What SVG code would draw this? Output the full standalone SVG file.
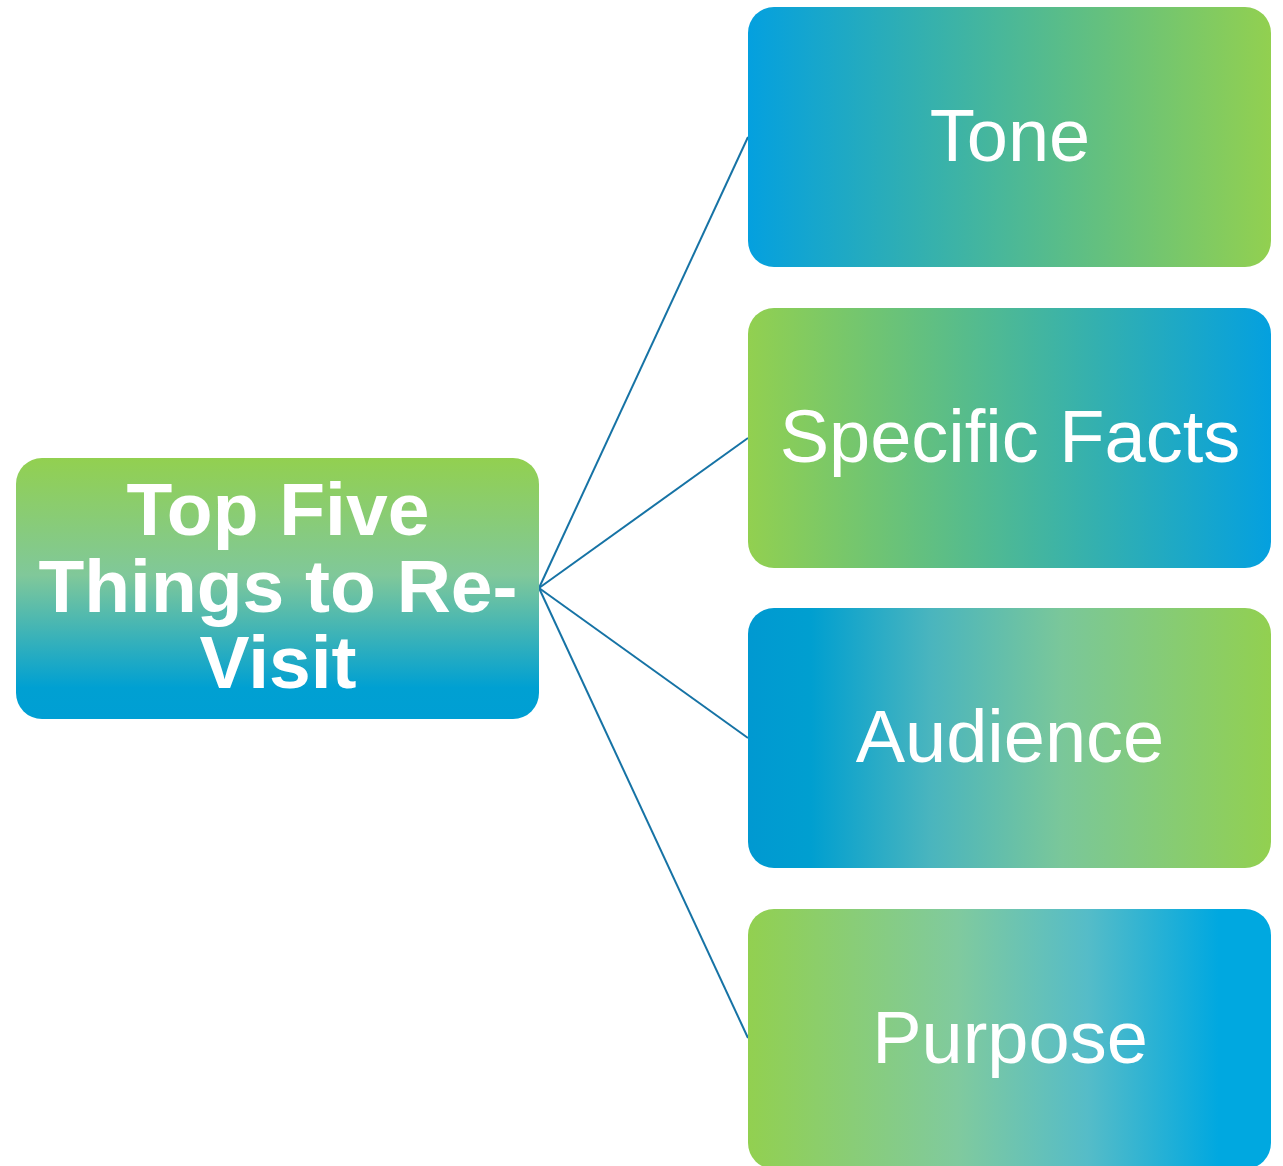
<svg xmlns="http://www.w3.org/2000/svg" width="1283" height="1166" viewBox="0 0 1283 1166">
<style>
.lbl{font-family:"Liberation Sans",Arial,sans-serif;fill:#ffffff;text-anchor:middle}
.child{font-size:74px}
.root{font-size:75px;font-weight:bold}
.conn{stroke:#1673A5;stroke-width:2;fill:none}
</style>
<defs>
<linearGradient id="gRoot" x1="0" y1="0" x2="0" y2="1">
<stop offset="0" stop-color="#92D050"/>
<stop offset="0.45" stop-color="#80C89A"/>
<stop offset="0.88" stop-color="#00A0D2"/>
<stop offset="1" stop-color="#009FD4"/>
</linearGradient>
<linearGradient id="gBG" x1="0" y1="0" x2="1" y2="0">
<stop offset="0" stop-color="#04A0DF"/>
<stop offset="1" stop-color="#92D050"/>
</linearGradient>
<linearGradient id="gGB" x1="0" y1="0" x2="1" y2="0">
<stop offset="0" stop-color="#92D050"/>
<stop offset="1" stop-color="#04A0DF"/>
</linearGradient>
<linearGradient id="gAud" x1="0" y1="0" x2="1" y2="0">
<stop offset="0" stop-color="#0099D1"/>
<stop offset="0.12" stop-color="#009FD0"/>
<stop offset="0.35" stop-color="#4AB5BE"/>
<stop offset="0.6" stop-color="#7AC79A"/>
<stop offset="1" stop-color="#92D050"/>
</linearGradient>
<linearGradient id="gPur" x1="0" y1="0" x2="1" y2="0">
<stop offset="0" stop-color="#92D050"/>
<stop offset="0.4" stop-color="#80CA9E"/>
<stop offset="0.65" stop-color="#55BCC8"/>
<stop offset="0.9" stop-color="#00A8E0"/>
<stop offset="1" stop-color="#00A8E0"/>
</linearGradient>
</defs>
<rect width="1283" height="1166" fill="#ffffff"/>
<g id="connectors">
<line class="conn" x1="539" y1="588" x2="748" y2="137"/>
<line class="conn" x1="539" y1="588" x2="748" y2="438"/>
<line class="conn" x1="539" y1="588" x2="748" y2="738"/>
<line class="conn" x1="539" y1="588" x2="748" y2="1038"/>
</g>
<g id="root">
<rect x="16" y="458" width="523" height="261" rx="26" fill="url(#gRoot)"/>
<text class="lbl root" x="278" y="535">Top Five</text>
<text class="lbl root" x="278" y="612">Things to Re-</text>
<text class="lbl root" x="278" y="688">Visit</text>
</g>
<g id="tone">
<rect x="748" y="7" width="523" height="260" rx="26" fill="url(#gBG)"/>
<text class="lbl child" x="1010" y="161">Tone</text>
</g>
<g id="facts">
<rect x="748" y="308" width="523" height="260" rx="26" fill="url(#gGB)"/>
<text class="lbl child" x="1010" y="462">Specific Facts</text>
</g>
<g id="audience">
<rect x="748" y="608" width="523" height="260" rx="26" fill="url(#gAud)"/>
<text class="lbl child" x="1010" y="762">Audience</text>
</g>
<g id="purpose">
<rect x="748" y="909" width="523" height="260" rx="26" fill="url(#gPur)"/>
<text class="lbl child" x="1010" y="1063">Purpose</text>
</g>
</svg>
